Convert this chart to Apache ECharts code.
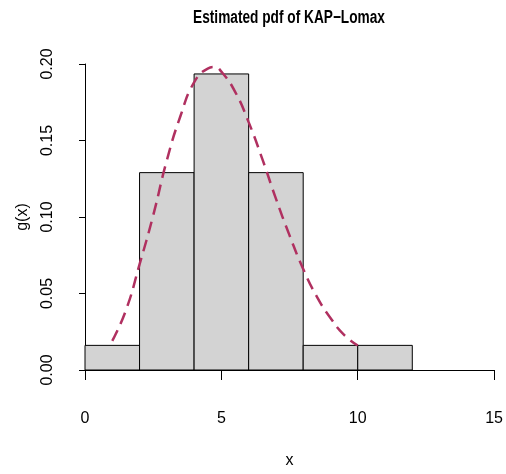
<!DOCTYPE html>
<html>
<head>
<meta charset="utf-8">
<script src="https://cdn.jsdelivr.net/npm/echarts@6/dist/echarts.min.js"></script>
<style>html,body{margin:0;padding:0;background:#fff}#c{width:506px;height:474px}</style>
</head>
<body>
<div id="c"></div>
<script>
// Histogram bins and densities
var binStarts = [0, 2, 4, 6, 8, 10];
var binEnds = [2, 4, 6, 8, 10, 12];
var densities = [0.0161, 0.129, 0.1935, 0.129, 0.0161, 0.0161];
// Estimated pdf curve
var curveX = [1, 1.5, 2, 2.5, 3, 3.5, 4, 4.5, 4.75, 5, 5.5, 6, 6.5, 7, 7.5, 8, 8.5, 9, 9.5, 10];
var curveY = [0.019, 0.039, 0.069, 0.101, 0.137, 0.166, 0.188, 0.197, 0.198, 0.195, 0.182, 0.162, 0.138, 0.112, 0.088, 0.066, 0.048, 0.034, 0.023, 0.016];
// Tick values
var xTicks = [0, 5, 10, 15];
var yTicks = [0, 0.05, 0.10, 0.15, 0.20];
var titleText = 'Estimated pdf of KAP\u2212Lomax';

var barData = binStarts.map(function (s, i) { return [s, binEnds[i], densities[i]]; });
var lineData = curveX.map(function (x, i) { return [x, curveY[i]]; });

var reg = '"Liberation Sans", Arial, sans-serif';

var chart = echarts.init(document.getElementById('c'), null, {renderer: 'canvas'});
chart.setOption({
  animation: false,
  backgroundColor: '#fff',
  graphic: [{
    type: 'text', x: 289, y: 18, scaleX: 0.76,
    style: {text: titleText, textAlign: 'center', textVerticalAlign: 'middle',
      font: 'bold 18px ' + reg, fill: '#000'}
  }],
  grid: {left: 85, right: 11, top: 64, bottom: 98},
  xAxis: {
    type: 'value', min: xTicks[0], max: xTicks[xTicks.length - 1], interval: 5,
    offset: 13,
    name: 'x', nameLocation: 'middle', nameGap: 70,
    nameTextStyle: {fontFamily: reg, fontSize: 16, color: '#000'},
    axisLine: {lineStyle: {color: '#000', width: 1}},
    axisTick: {length: 10, lineStyle: {color: '#000'}},
    axisLabel: {margin: 28, fontFamily: reg, fontSize: 16, color: '#000'},
    splitLine: {show: false}
  },
  yAxis: {
    type: 'value', min: yTicks[0], max: yTicks[yTicks.length - 1], interval: 0.05,
    offset: 17,
    name: 'g(x)', nameLocation: 'middle', nameGap: 37, nameRotate: 90,
    nameTextStyle: {fontFamily: reg, fontSize: 16, color: '#000'},
    axisLine: {show: true, lineStyle: {color: '#000', width: 1}},
    axisTick: {show: true, length: 6, lineStyle: {color: '#000'}},
    axisLabel: {rotate: 90, margin: 12, fontFamily: reg, fontSize: 16, color: '#000',
      formatter: function (v) { return v.toFixed(2); }},
    splitLine: {show: false}
  },
  series: [{
    type: 'custom',
    data: barData,
    clip: false,
    renderItem: function (params, api) {
      var p0 = api.coord([api.value(0), api.value(2)]);
      var p1 = api.coord([api.value(1), 0]);
      return {
        type: 'rect',
        shape: {x: p0[0], y: p0[1], width: p1[0] - p0[0], height: p1[1] - p0[1]},
        style: {fill: '#D3D3D3', stroke: '#000', lineWidth: 1}
      };
    },
    encode: {x: [0, 1], y: 2}
  }, {
    type: 'line',
    data: lineData,
    smooth: true,
    showSymbol: false,
    clip: false,
    lineStyle: {color: '#B03060', width: 2.5, type: [12, 7]},
    z: 5
  }]
});
</script>
</body>
</html>
